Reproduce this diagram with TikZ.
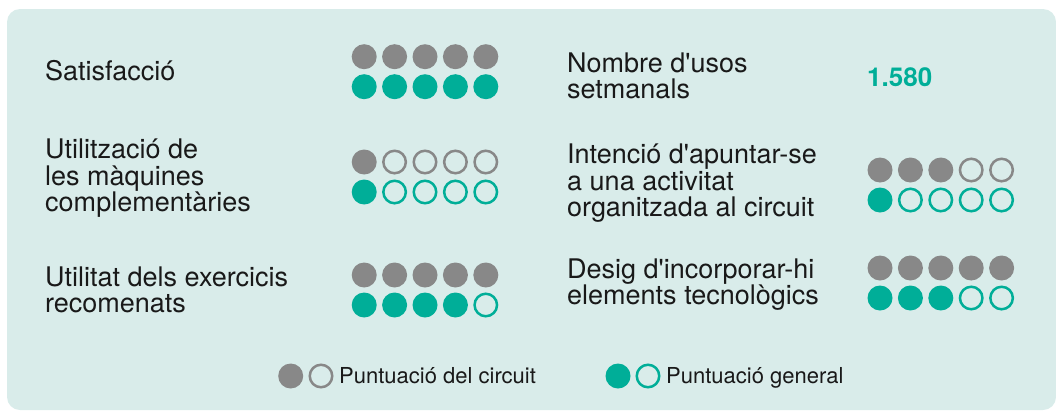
\documentclass[tikz,border=0pt]{standalone}
\usepackage{fontspec}
\setmainfont{TeX Gyre Heros}
\definecolor{panel}{HTML}{D9ECEA}
\definecolor{circuit}{HTML}{888888}
\definecolor{general}{HTML}{00AE98}
\begin{document}
\begin{tikzpicture}[x=1pt, y=-1pt,
		full/.style={circle, inner sep=0pt, minimum size=25pt, fill=#1},
		empty/.style={circle, inner sep=0pt, minimum size=22.5pt, draw=#1, line width=2.5pt},
		label/.style={anchor=base west, inner sep=0pt, align=left, text=black!90, font=\fontsize{27}{26.5}\selectfont},
		key/.style={anchor=base west, inner sep=0pt, text=black!90, font=\fontsize{22}{22}\selectfont}]
	\useasboundingbox (0,0) rectangle (1056,410);
	\clip (0,0) rectangle (1056,410);
	\fill[panel, rounded corners=13pt] (7,9) rectangle (1056,410);
	% questions (base = last line)
	\node[label] (sat) at (45,80) {Satisfacció};
	\node[label] (util) at (45,211.5) {Utilització de\\les màquines\\complementàries};
	\node[label] (exer) at (45,312.5) {Utilitat dels exercicis\\recomenats};
	\node[label] (usos) at (567,98.5) {Nombre d\textquotesingle usos\\setmanals};
	\node[label] (apun) at (567,216.5) {Intenció d\textquotesingle apuntar-se\\a una activitat\\organitzada al circuit};
	\node[label] (tecn) at (567,304.5) {Desig d\textquotesingle incorporar-hi\\elements tecnològics};
	\node[label, text=general, font=\fontsize{26}{26}\selectfont\bfseries] (num) at (867,86) {1.580};
	% ratings: circuit row and general row
	\foreach \name/\x/\y/\circ/\gen in {sat/364.2/56.7/5/5, util/364.2/162/1/1, exer/364.2/275/5/4,
	    apun/880/170/3/1, tecn/880/268/5/3}{
		\foreach \i in {1,...,5}{
			\pgfmathsetmacro{\px}{\x+(\i-1)*30.4}
			\ifnum\i>\circ
				\node[empty=circuit] (\name-c\i) at (\px,\y) {};
			\else
				\node[full=circuit] (\name-c\i) at (\px,\y) {};
			\fi
			\ifnum\i>\gen
				\node[empty=general] (\name-g\i) at (\px,\y+30) {};
			\else
				\node[full=general] (\name-g\i) at (\px,\y+30) {};
			\fi}}
	% legend
	\node[full=circuit] (kc1) at (290.7,376) {};
	\node[empty=circuit] (kc2) at (321,376) {};
	\node[key] (kctext) at (339,383.5) {Puntuació del circuit};
	\node[full=general] (kg1) at (618,376) {};
	\node[empty=general] (kg2) at (648,376) {};
	\node[key] (kgtext) at (666,383.5) {Puntuació general};
\end{tikzpicture}
\end{document}
